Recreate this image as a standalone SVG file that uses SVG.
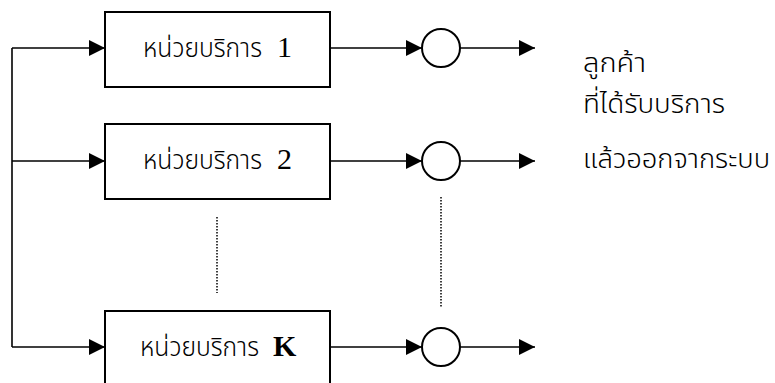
<svg xmlns="http://www.w3.org/2000/svg" width="775" height="383" viewBox="0 0 775 383">
  <style>
    .box { fill: #ffffff; stroke: #000000; stroke-width: 2; }
    .srv { fill: #ffffff; stroke: #000000; stroke-width: 2; }
    .wire { fill: none; stroke: #000000; stroke-width: 1.6; }
    .dots { fill: none; stroke: #000000; stroke-width: 1.5; stroke-dasharray: 1.5 1.5; }
    .th { font-family: "Noto Sans Thai", "DejaVu Sans", "Noto Sans", sans-serif; font-weight: 300; fill: #000000; }
    .lbl { font-size: 26px; }
    .note { font-size: 27px; }
    .num { font-family: "Liberation Serif", "Times New Roman", serif; font-size: 30px; font-weight: 400; fill: #000000; }
    .num.bold { font-weight: 700; }
  </style>
  <defs>
    <marker id="arrow" markerUnits="userSpaceOnUse" markerWidth="16" markerHeight="16" viewBox="0 0 16 16" refX="16" refY="8" orient="auto">
      <path d="M0,0 L16,8 L0,16 Z" fill="#000000"/>
    </marker>
  </defs>

  <rect width="775" height="383" fill="#ffffff"/>

  <!-- connectors -->
  <g id="connectors">
    <!-- distribution bus feeding each server -->
    <polyline class="wire" points="12,48 12,347"/>
    <line class="wire" x1="12" y1="48" x2="105" y2="48" marker-end="url(#arrow)"/>
    <line class="wire" x1="12" y1="161" x2="105" y2="161" marker-end="url(#arrow)"/>
    <line class="wire" x1="12" y1="347" x2="105" y2="347" marker-end="url(#arrow)"/>
    <!-- server to departure point -->
    <line class="wire" x1="330" y1="48" x2="422" y2="48" marker-end="url(#arrow)"/>
    <line class="wire" x1="330" y1="161" x2="422" y2="161" marker-end="url(#arrow)"/>
    <line class="wire" x1="330" y1="347" x2="422" y2="347" marker-end="url(#arrow)"/>
    <!-- departures -->
    <line class="wire" x1="460" y1="48" x2="535" y2="48" marker-end="url(#arrow)"/>
    <line class="wire" x1="460" y1="161" x2="535" y2="161" marker-end="url(#arrow)"/>
    <line class="wire" x1="460" y1="347" x2="535" y2="347" marker-end="url(#arrow)"/>
    <!-- ellipsis between server 2 and server K -->
    <line class="dots" x1="217" y1="217" x2="217" y2="293"/>
    <line class="dots" x1="441" y1="197" x2="441" y2="308"/>
  </g>

  <g id="server1">
    <rect class="box" x="105" y="12" width="225" height="75"/>
    <text class="th lbl" y="57"><tspan x="143" textLength="119" lengthAdjust="spacingAndGlyphs">หน่วยบริการ</tspan><tspan class="num" x="277">1</tspan></text>
  </g>

  <g id="server2">
    <rect class="box" x="105" y="124" width="225" height="75"/>
    <text class="th lbl" y="169"><tspan x="143" textLength="119" lengthAdjust="spacingAndGlyphs">หน่วยบริการ</tspan><tspan class="num" x="277">2</tspan></text>
  </g>

  <g id="serverK">
    <rect class="box" x="105" y="311" width="225" height="80"/>
    <text class="th lbl" y="356"><tspan x="140" textLength="119" lengthAdjust="spacingAndGlyphs">หน่วยบริการ</tspan><tspan class="num bold" x="273">K</tspan></text>
  </g>

  <g id="exit1"><circle class="srv" cx="441" cy="48" r="19"/></g>
  <g id="exit2"><circle class="srv" cx="441" cy="161" r="19"/></g>
  <g id="exitK"><circle class="srv" cx="441" cy="347" r="19"/></g>

  <g id="departure-label">
    <text class="th note" x="583" y="72" textLength="63" lengthAdjust="spacingAndGlyphs">ลูกค้า</text>
    <text class="th note" x="583" y="113" textLength="142" lengthAdjust="spacingAndGlyphs">ที่ได้รับบริการ</text>
    <text class="th note" x="583" y="168" textLength="187" lengthAdjust="spacingAndGlyphs">แล้วออกจากระบบ</text>
  </g>
</svg>
